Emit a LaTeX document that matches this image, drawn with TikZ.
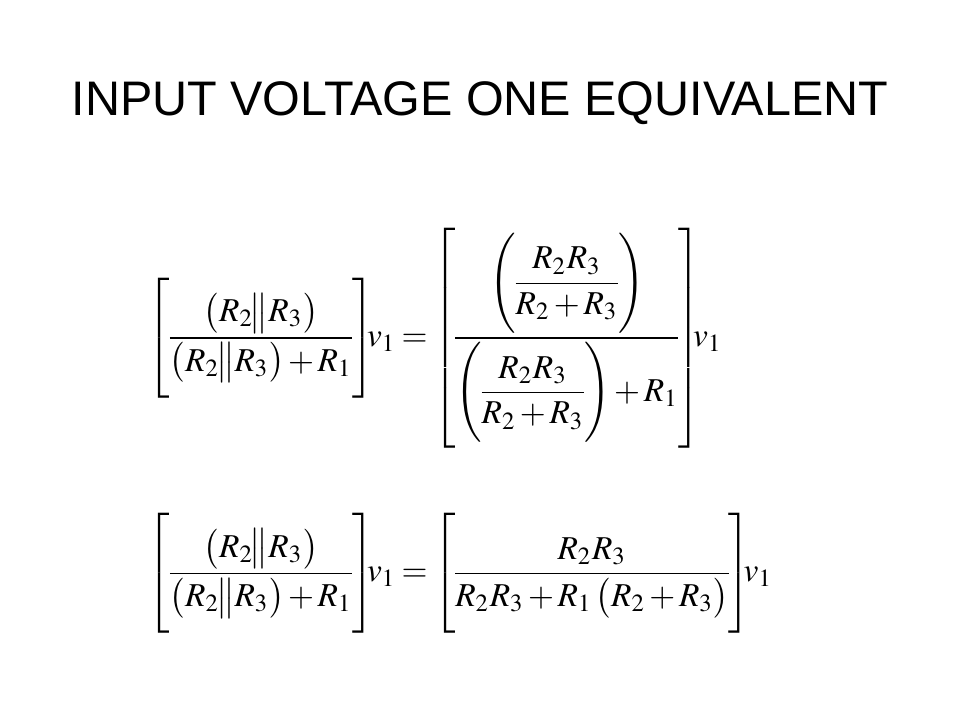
\documentclass[tikz,border=0pt]{standalone}
\usepackage{amsmath}
\usepackage{mathptmx}
\usepackage[no-math]{fontspec}
\newfontfamily\titlefont{Liberation Sans}
% invisible rule centred on the math axis, to size the delimiters
\newcommand{\axisrule}[1]{\vcenter{\hbox{\rule{0pt}{#1}}}}
\newcommand{\parRR}{\left(\axisrule{11pt}R_2\mskip-2mu\middle\|R_3\right)}
\begin{document}
\begin{tikzpicture}[eq/.style={anchor=west, inner sep=0pt, font=\fontsize{9.5}{11}\selectfont}]
      \useasboundingbox (0,0) rectangle (9.6,7.2);
      \nulldelimiterspace=0pt
      \delimiterfactor=1000 \delimitershortfall=0pt
      \medmuskip=2mu \thickmuskip=3mu
      \node (title) at (4.8, 6.17) {\titlefont\fontsize{13.8}{16}\selectfont INPUT VOLTAGE ONE EQUIVALENT};
      % first form, nested fraction
      \node[eq] (eqone) at (1.47, 3.82) {%
        $\displaystyle \left[\axisrule{32pt}\frac{\parRR}{\parRR+R_1}\right]\mskip-6mu v_1
        =\left[\axisrule{61pt}\frac{\left(\axisrule{28.4pt}\dfrac{R_2R_3}{R_2+R_3}\right)}{\left(\axisrule{28.4pt}\dfrac{R_2R_3}{R_2+R_3}\right)+R_1}\right]\mskip-6mu v_1$};
      % simplified form
      \node[eq] (eqtwo) at (1.47, 1.465) {%
        $\displaystyle \left[\axisrule{32pt}\frac{\parRR}{\parRR+R_1}\right]\mskip-6mu v_1
        =\left[\axisrule{32pt}\frac{R_2R_3}{R_2R_3+R_1\left(\axisrule{11pt}R_2+R_3\right)}\right]\mskip-6mu v_1$};
    \end{tikzpicture}
\end{document}
